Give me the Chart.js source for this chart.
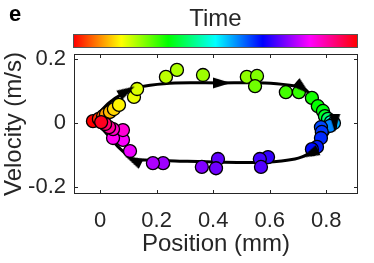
<!DOCTYPE html>
<html>
<head>
<meta charset="utf-8">
<script src="https://cdn.jsdelivr.net/npm/chart.js@4.4.1/dist/chart.umd.min.js"></script>
<style>
  html, body { margin: 0; padding: 0; background: #fff; }
  #wrap { position: relative; width: 374px; height: 263px; font-family: "Liberation Sans", Arial, sans-serif; color: #262626; }
  #panel { position: absolute; left: 9px; top: 1px; font-size: 22px; font-weight: bold; color: #000; }
  #cbTitle { position: absolute; left: 73px; width: 285px; top: 4px; text-align: center; font-size: 24px; }
  #cbar { position: absolute; left: 73px; top: 34px; width: 283px; height: 12px; border: 1px solid #555;
    background: linear-gradient(to right, #f00 0%, #ff0 16.7%, #0f0 33.3%, #0ff 50%, #00f 66.7%, #f0f 83.3%, #f00 100%); }
  canvas { position: absolute; left: 0; top: 0; }
</style>
</head>
<body>
<div id="wrap">
  <canvas id="c" width="374" height="263"></canvas>
  <div id="panel">e</div>
  <div id="cbTitle">Time</div>
  <div id="cbar"></div>
</div>
<script>
// measured samples (position mm, velocity m/s, time fraction for colour)
const posX = [-0.025, -0.004, 0.011, 0.021, 0.035, 0.049, 0.067, 0.120, 0.131, 0.233,
  0.272, 0.364, 0.519, 0.555, 0.548, 0.657, 0.703, 0.749, 0.770, 0.788,
  0.795, 0.806, 0.816, 0.827, 0.813, 0.781, 0.784, 0.781, 0.767, 0.749,
  0.594, 0.565, 0.569, 0.417, 0.410, 0.360, 0.223, 0.187, 0.106, 0.081,
  0.046, 0.081, 0.046, 0.032, 0.018, 0.004];
const velY = [0.006, 0.013, 0.022, 0.028, 0.035, 0.044, 0.057, 0.082, 0.107, 0.145,
  0.167, 0.151, 0.145, 0.148, 0.116, 0.097, 0.097, 0.079, 0.053, 0.038,
  0.022, 0.013, 0.003, 0.0, -0.009, -0.013, -0.028, -0.047, -0.075, -0.082,
  -0.107, -0.113, -0.138, -0.113, -0.142, -0.138, -0.126, -0.126, -0.088, -0.053,
  -0.047, -0.022, -0.019, -0.013, -0.003, 0.003];
const timeVal = [0.00, 0.03, 0.07, 0.10, 0.12, 0.14, 0.16, 0.18, 0.19, 0.21,
  0.22, 0.23, 0.24, 0.25, 0.26, 0.29, 0.30, 0.32, 0.33, 0.34,
  0.36, 0.40, 0.47, 0.55, 0.58, 0.62, 0.63, 0.64, 0.65, 0.66,
  0.70, 0.71, 0.72, 0.73, 0.74, 0.75, 0.77, 0.78, 0.82, 0.83,
  0.84, 0.86, 0.87, 0.90, 0.93, 0.98];

// mean trajectory loop
const loopX = [-0.025, 0.0, 0.035, 0.078, 0.124, 0.177, 0.265, 0.424, 0.583, 0.671,
  0.717, 0.760, 0.802, 0.830, 0.806, 0.777, 0.742, 0.689, 0.583, 0.424,
  0.265, 0.159, 0.117, 0.064, 0.018, -0.025];
const loopY = [0.006, 0.035, 0.066, 0.091, 0.110, 0.119, 0.126, 0.126, 0.126, 0.119,
  0.110, 0.075, 0.035, 0.0, -0.031, -0.069, -0.094, -0.113, -0.123, -0.123,
  -0.119, -0.116, -0.113, -0.075, -0.028, 0.006];

// arrowheads along the loop
const arrowX = [0.095, 0.431, 0.717, 0.830, 0.742, 0.117];
const arrowY = [0.101, 0.126, 0.110, 0.0, -0.097, -0.116];
const arrowDir = [60, 90, 130, 180, 245, 296];

const xTicks = [0, 0.2, 0.4, 0.6, 0.8];
const yTicks = [-0.2, 0, 0.2];

const ink = '#262626';
const font = '"Liberation Sans", Arial, sans-serif';

function hsv(h) {
  const i = Math.floor(h * 6) % 6, f = h * 6 - Math.floor(h * 6);
  const q = 1 - f, t = f;
  const rgb = [[1, t, 0], [q, 1, 0], [0, 1, t], [0, q, 1], [t, 0, 1], [1, 0, q]][i];
  return 'rgb(' + rgb.map(v => Math.round(v * 255)).join(',') + ')';
}

// narrow arrowhead sprite, tip pointing up
const head = document.createElement('canvas');
head.width = 12; head.height = 18;
(function () {
  const g = head.getContext('2d');
  g.fillStyle = '#000';
  g.beginPath(); g.moveTo(6, 0); g.lineTo(11.5, 18); g.lineTo(0.5, 18); g.closePath(); g.fill();
})();

const boxTicks = {
  id: 'boxTicks',
  afterDraw(chart) {
    const { ctx, chartArea: a, scales } = chart;
    ctx.save();
    ctx.strokeStyle = ink;
    ctx.lineWidth = 1;
    ctx.strokeRect(a.left + 0.5, a.top + 0.5, a.right - a.left - 1, a.bottom - a.top - 1);
    ctx.beginPath();
    xTicks.forEach(v => {
      const px = Math.round(scales.x.getPixelForValue(v)) + 0.5;
      ctx.moveTo(px, a.bottom); ctx.lineTo(px, a.bottom - 4);
      ctx.moveTo(px, a.top); ctx.lineTo(px, a.top + 4);
    });
    yTicks.forEach(v => {
      const py = Math.round(scales.y.getPixelForValue(v)) + 0.5;
      ctx.moveTo(a.left, py); ctx.lineTo(a.left + 4, py);
      ctx.moveTo(a.right, py); ctx.lineTo(a.right - 4, py);
    });
    ctx.stroke();
    ctx.restore();
  }
};

new Chart(document.getElementById('c'), {
  type: 'scatter',
  data: {
    datasets: [{
      data: loopX.map((x, i) => ({ x: x, y: loopY[i] })),
      showLine: true,
      borderColor: '#000',
      borderWidth: 3,
      pointRadius: 0,
      tension: 0.3,
      order: 3
    }, {
      data: posX.map((x, i) => ({ x: x, y: velY[i] })),
      backgroundColor: timeVal.map(hsv),
      borderColor: '#000',
      borderWidth: 1.3,
      pointRadius: 6.5,
      order: 2
    }, {
      data: arrowX.map((x, i) => ({ x: x, y: arrowY[i] })),
      pointStyle: head,
      pointRotation: arrowDir,
      pointRadius: 6,
      order: 1
    }]
  },
  options: {
    responsive: false,
    animation: false,
    layout: { padding: { top: 54, right: 16, bottom: 0, left: 0 } },
    plugins: { legend: { display: false }, tooltip: { enabled: false } },
    scales: {
      x: {
        min: -0.092, max: 0.912,
        afterFit: s => { s.height = 69; },
        grid: { display: false, drawTicks: false },
        border: { display: false },
        afterBuildTicks: s => { s.ticks = xTicks.map(v => ({ value: v })); },
        ticks: { color: ink, font: { family: font, size: 22 }, padding: 14,
          callback: v => String(Math.round(v * 10) / 10) },
        title: { display: true, text: 'Position (mm)', color: ink,
          font: { family: font, size: 24 }, padding: { top: 0, bottom: 4 } }
      },
      y: {
        min: -0.223, max: 0.217,
        afterFit: s => { s.width = 74; },
        grid: { display: false, drawTicks: false },
        border: { display: false },
        afterBuildTicks: s => { s.ticks = yTicks.map(v => ({ value: v })); },
        ticks: { color: ink, font: { family: font, size: 22 }, padding: 8,
          callback: v => String(Math.round(v * 10) / 10) },
        title: { display: true, text: 'Velocity (m/s)', color: ink,
          font: { family: font, size: 24 }, padding: { top: 0, bottom: 0 } }
      }
    }
  },
  plugins: [boxTicks]
});
</script>
</body>
</html>
